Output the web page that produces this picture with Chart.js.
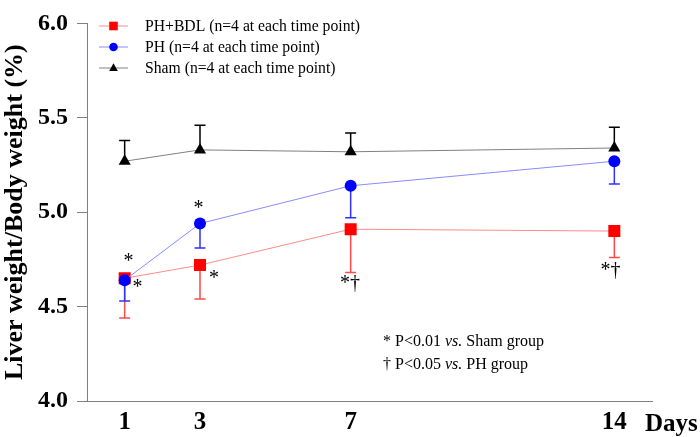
<!DOCTYPE html>
<html>
<head>
<meta charset="utf-8">
<script src="https://cdn.jsdelivr.net/npm/chart.js@4/dist/chart.umd.min.js"></script>
<style>
  body { margin: 0; background: #fff; }
</style>
</head>
<body>
<canvas id="grafica" width="700" height="437"></canvas>
<script>
// Datos
const dias = [1, 3, 7, 14];
const bdlMedia = [4.65, 4.72, 4.91, 4.90];
const bdlError = [0.21, 0.18, 0.23, 0.14];
const phMedia = [4.64, 4.94, 5.14, 5.27];
const phError = [0.11, 0.13, 0.17, 0.12];
const shamMedia = [5.27, 5.33, 5.32, 5.34];
const shamError = [0.11, 0.13, 0.10, 0.11];
const ticksY = [4.0, 4.5, 5.0, 5.5, 6.0];
const leyendas = ['PH+BDL (n=4 at each time point)', 'PH (n=4 at each time point)', 'Sham (n=4 at each time point)'];
// marcas de significancia (día, valor, texto)
const marcasDia = [1.1, 1.34, 2.96, 3.37, 6.98, 13.9];
const marcasValor = [4.74, 4.60, 5.02, 4.65, 4.62, 4.69];
const marcasTexto = ['*', '*', '*', '*', '*†', '*†'];

const serif = "'Liberation Serif', 'Times New Roman', serif";

const puntos = vals => dias.map((d, i) => ({ x: d, y: vals[i] }));

// === Barras de error (una sola dirección) ===
const barrasError = {
    id: 'barrasError',
    beforeDatasetsDraw(chart) {
        const { ctx } = chart;
        const y = chart.scales.y;
        chart.data.datasets.forEach((ds, k) => {
            const meta = chart.getDatasetMeta(k);
            ctx.save();
            ctx.strokeStyle = ds.colorError;
            ctx.lineWidth = 1.5;
            meta.data.forEach((pt, i) => {
                const fin = y.getPixelForValue(ds.data[i].y + ds.sentido * ds.errores[i]);
                ctx.beginPath();
                ctx.moveTo(pt.x, pt.y);
                ctx.lineTo(pt.x, fin);
                ctx.moveTo(pt.x - 5.5, fin);
                ctx.lineTo(pt.x + 5.5, fin);
                ctx.stroke();
            });
            ctx.restore();
        });
    }
};

function marcador(ctx, estilo, x, y, r, color) {
    ctx.fillStyle = color;
    ctx.beginPath();
    if (estilo === 'rect') {
        ctx.rect(x - r, y - r, 2 * r, 2 * r);
    } else if (estilo === 'circle') {
        ctx.arc(x, y, r, 0, Math.PI * 2);
    } else {
        ctx.moveTo(x, y - r * 1.1);
        ctx.lineTo(x + r, y + r * 0.7);
        ctx.lineTo(x - r, y + r * 0.7);
        ctx.closePath();
    }
    ctx.fill();
}

// === Leyenda, anotaciones y notas ===
const anotaciones = {
    id: 'anotaciones',
    afterDraw(chart) {
        const { ctx, chartArea } = chart;
        const sx = chart.scales.x, sy = chart.scales.y;
        ctx.save();

        // leyenda
        chart.data.datasets.forEach((ds, i) => {
            const yy = 26 + i * 21;
            ctx.strokeStyle = ds.borderColor;
            ctx.lineWidth = 1;
            ctx.beginPath();
            ctx.moveTo(99, yy);
            ctx.lineTo(128, yy);
            ctx.stroke();
            marcador(ctx, ds.pointStyle, 113.5, yy, 4.3, ds.pointBackgroundColor);
            ctx.fillStyle = '#000';
            ctx.font = '15.7px ' + serif;
            ctx.textAlign = 'left';
            ctx.textBaseline = 'middle';
            ctx.fillText(ds.label, 145, yy + 1);
        });

        // asteriscos y dagas
        ctx.fillStyle = '#000';
        ctx.font = '20px ' + serif;
        ctx.textAlign = 'center';
        ctx.textBaseline = 'middle';
        marcasTexto.forEach((t, i) => {
            ctx.fillText(t, sx.getPixelForValue(marcasDia[i]), sy.getPixelForValue(marcasValor[i]));
        });

        // notas al pie
        const notas = [['* ', 'P<0.01 ', 'vs.', ' Sham group'], ['† ', 'P<0.05 ', 'vs.', ' PH group']];
        ctx.textAlign = 'left';
        notas.forEach((n, i) => {
            let x = 383;
            const yy = 342 + i * 23;
            n.forEach((seg, j) => {
                ctx.font = (j === 2 ? 'italic ' : '') + '16px ' + serif;
                ctx.fillText(seg, x, yy);
                x += ctx.measureText(seg).width;
            });
        });

        // etiqueta de días
        ctx.font = 'bold 25px ' + serif;
        ctx.textBaseline = 'middle';
        ctx.fillText('Days', 645, chartArea.bottom + 24);
        ctx.restore();
    }
};

new Chart(document.getElementById('grafica').getContext('2d'), {
    type: 'line',
    data: {
        datasets: [
            {
                label: leyendas[0],
                data: puntos(bdlMedia),
                borderColor: '#ff8a8a',
                borderWidth: 1,
                pointStyle: 'rect',
                pointRadius: 8.5,
                pointBackgroundColor: '#ff0000',
                pointBorderWidth: 0,
                errores: bdlError,
                sentido: -1,
                colorError: '#ff4a4a',
                order: 2
            },
            {
                label: leyendas[1],
                data: puntos(phMedia),
                borderColor: '#8a8aff',
                borderWidth: 1,
                pointStyle: 'circle',
                pointRadius: 6,
                pointBackgroundColor: '#0000ff',
                pointBorderWidth: 0,
                errores: phError,
                sentido: -1,
                colorError: '#3030ff',
                order: 1
            },
            {
                label: leyendas[2],
                data: puntos(shamMedia),
                borderColor: '#808080',
                borderWidth: 1,
                pointStyle: 'triangle',
                pointRadius: 7,
                pointBackgroundColor: '#000000',
                pointBorderWidth: 0,
                errores: shamError,
                sentido: 1,
                colorError: '#000000',
                order: 3
            }
        ]
    },
    options: {
        responsive: false,
        animation: false,
        devicePixelRatio: 1,
        layout: { padding: { top: 13, right: 48, left: 0, bottom: 0 } },
        plugins: { legend: { display: false }, tooltip: { enabled: false } },
        scales: {
            x: {
                type: 'linear',
                min: 0,
                max: 15,
                afterBuildTicks: s => { s.ticks = dias.map(v => ({ value: v })); },
                afterFit: s => { s.height = 36; },
                grid: { drawOnChartArea: false, drawTicks: false },
                border: { color: '#808080', width: 1 },
                ticks: {
                    color: '#000',
                    font: { family: serif, size: 25, weight: 'bold' },
                    padding: 7,
                    autoSkip: false,
                    maxRotation: 0
                }
            },
            y: {
                min: 4,
                max: 6,
                afterBuildTicks: s => { s.ticks = ticksY.map(v => ({ value: v })); },
                afterFit: s => { s.width = 87; },
                grid: { drawOnChartArea: false, tickLength: 10, color: '#808080' },
                border: { color: '#808080', width: 1 },
                ticks: {
                    color: '#000',
                    font: { family: serif, size: 24, weight: 'bold' },
                    padding: 9,
                    callback: v => v.toFixed(1)
                },
                title: {
                    display: true,
                    text: 'Liver weight/Body weight (%)',
                    color: '#000',
                    font: { family: serif, size: 26, weight: 'bold' },
                    padding: { top: 0, bottom: 0 }
                }
            }
        }
    },
    plugins: [barrasError, anotaciones]
});
</script>
</body>
</html>
